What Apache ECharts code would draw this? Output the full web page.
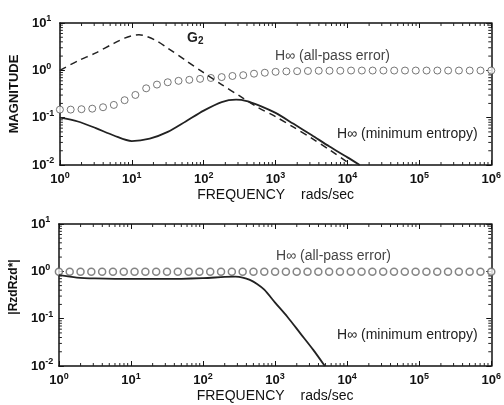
<!DOCTYPE html>
<html><head><meta charset="utf-8">
<script src="https://cdn.jsdelivr.net/npm/echarts@6/dist/echarts.min.js"></script>
<style>html,body{margin:0;padding:0;background:#fff}#c{width:504px;height:405px}</style>
</head><body><div id="c"></div>
<script>
// ---- data ----
// top panel: G2 (dashed)
var g2Freq = [1, 1.778, 3.162, 5.623, 7.943, 10, 12.59, 15.85, 22.39, 31.62, 56.23, 100, 177.8, 316.2, 562.3, 1000, 1778, 3162, 5623, 10000, 11220];
var g2Mag  = [1.0, 1.585, 2.34, 3.72, 4.79, 5.37, 5.62, 5.25, 4.17, 2.95, 1.62, 0.89, 0.50, 0.288, 0.166, 0.105, 0.063, 0.037, 0.021, 0.0115, 0.0100];
// top panel: H-inf minimum entropy (solid)
var meTopFreq = [1, 1.778, 3.162, 5.623, 10, 17.78, 31.62, 56.23, 100, 177.8, 281.8, 398.1, 562.3, 1000, 1778, 3162, 5623, 10000, 14791];
var meTopMag  = [0.100, 0.083, 0.060, 0.042, 0.032, 0.036, 0.050, 0.083, 0.141, 0.214, 0.240, 0.224, 0.186, 0.126, 0.074, 0.043, 0.0245, 0.0145, 0.0100];
// circle markers (all-pass error), exponent of frequency
var circExp = [0,0.15,0.3,0.45,0.6,0.75,0.9,1.05,1.2,1.35,1.5,1.65,1.8,1.95,2.1,2.25,2.4,2.55,2.7,2.85,3,3.15,3.3,3.45,3.6,3.75,3.9,4.05,4.2,4.35,4.5,4.65,4.8,4.95,5.1,5.25,5.4,5.55,5.7,5.85,6];
var apTopMag = [0.148,0.148,0.151,0.155,0.166,0.186,0.234,0.302,0.417,0.50,0.56,0.60,0.63,0.66,0.69,0.72,0.76,0.79,0.85,0.89,0.93,0.95,0.96,0.97,0.98,0.98,0.98,0.99,0.99,0.99,0.99,0.99,0.99,0.99,0.99,0.99,0.99,0.99,0.99,0.99,0.99];
// bottom panel
var apBotMag = [0.98,0.98,0.98,0.98,0.98,0.98,0.98,0.98,0.98,0.98,0.98,0.98,0.98,0.98,0.98,0.98,0.98,0.98,0.98,0.98,0.98,0.98,0.98,0.98,0.98,0.98,0.98,0.98,0.98,0.98,0.98,0.98,0.98,0.98,0.98,0.98,0.98,0.98,0.98,0.98,0.98];
var meBotFreq = [1, 1.778, 3.162, 10, 31.62, 100, 199.5, 281.8, 354.8, 446.7, 562.3, 707.9, 1000, 1479, 2239, 3388, 4898];
var meBotMag  = [0.83, 0.74, 0.71, 0.69, 0.69, 0.72, 0.76, 0.77, 0.74, 0.66, 0.54, 0.41, 0.219, 0.110, 0.049, 0.0219, 0.0100];
// axis ticks
var xMinorMult = [2,3,4,5,6,7,8,9];

function pairs(xs, ys){ return xs.map(function(x,i){ return [x, ys[i]]; }); }
var circFreq = circExp.map(function(e){ return Math.pow(10, e); });
var xMinor = []; for (var k=0;k<6;k++) xMinorMult.forEach(function(m){ xMinor.push(m*Math.pow(10,k)); });
var yMinor = []; for (var j=-2;j<1;j++) xMinorMult.forEach(function(m){ yMinor.push(m*Math.pow(10,j)); });

var FONT = 'Liberation Sans, Arial, Helvetica, sans-serif';
var labRich = {
  b: {fontSize: 13, fontWeight: 'bold', fontFamily: FONT, color: '#111'},
  s: {fontSize: 9, fontWeight: 'bold', fontFamily: FONT, color: '#111', padding: [0,0,8,0]}
};
function fmt(v){ return '{b|10}{s|' + Math.round(Math.log10(v)) + '}'; }

function xAx(grid, pos, showLab){
  return {type:'log', logBase:10, min:1, max:1e6, splitNumber:6, gridIndex:grid, position:pos,
    axisLine:{show:true, lineStyle:{color:'#111', width:1.5}},
    axisTick:{show:true, inside:true, length:5, lineStyle:{color:'#111'}},
    splitLine:{show:false},
    axisLabel:{show:showLab, formatter:fmt, rich:labRich, margin:6},
    name: showLab ? '{f|FREQUENCY}{r|rads/sec}' : '',
    nameLocation:'middle', nameGap: 23,
    nameTextStyle:{rich:{f:{fontSize:14, fontFamily:FONT, color:'#111', padding:[0,16,0,0]}, r:{fontSize:14, fontFamily:FONT, color:'#111'}}}
  };
}
function yAx(grid, pos, showLab, name, nameStyle){
  return {type:'log', logBase:10, min:0.01, max:10, splitNumber:3, gridIndex:grid, position:pos,
    axisLine:{show:true, lineStyle:{color:'#111', width:1.5}},
    axisTick:{show:true, inside:true, length:5, lineStyle:{color:'#111'}},
    splitLine:{show:false},
    axisLabel:{show:showLab, formatter:fmt, rich:labRich, align:'left', margin:28},
    name: name || '', nameLocation:'middle', nameGap:36,
    nameTextStyle: nameStyle || {fontSize:13, fontWeight:'bold', fontFamily:FONT, color:'#111'}
  };
}
function minorSeries(xi, yi, vals, isX){
  return {type:'custom', xAxisIndex:xi, yAxisIndex:yi, silent:true, z:1,
    data: vals.map(function(v){ return isX ? [v, 1] : [1, v]; }),
    renderItem: function(params, api){
      var cs = params.coordSys;
      var p = api.coord([api.value(0), api.value(1)]);
      var st = {stroke:'#222', lineWidth:1};
      if (isX) {
        return {type:'group', children:[
          {type:'line', shape:{x1:p[0], y1:cs.y+cs.height, x2:p[0], y2:cs.y+cs.height-3}, style:st},
          {type:'line', shape:{x1:p[0], y1:cs.y, x2:p[0], y2:cs.y+3}, style:st}
        ]};
      }
      return {type:'group', children:[
        {type:'line', shape:{x1:cs.x, y1:p[1], x2:cs.x+3, y2:p[1]}, style:st},
        {type:'line', shape:{x1:cs.x+cs.width, y1:p[1], x2:cs.x+cs.width-3, y2:p[1]}, style:st}
      ]};
    }
  };
}
var circStyle = {color:'#fff', borderColor:'#555', borderWidth:1};
var chart = echarts.init(document.getElementById('c'));
chart.setOption({
  animation:false,
  backgroundColor:'#fff',
  grid:[
    {left:56, top:23, width:438, height:142},
    {left:56, top:224, width:438, height:142}
  ],
  xAxis:[xAx(0,'bottom',true), xAx(0,'top',false), xAx(1,'bottom',true), xAx(1,'top',false)],
  yAxis:[yAx(0,'left',true,'MAGNITUDE'), yAx(0,'right',false),
         yAx(1,'left',true,'|RzdRzd*|', {fontSize:12, fontWeight:'bold', fontFamily:FONT, color:'#111', padding:[0,0,0,16]}),
         yAx(1,'right',false)],
  series:[
    minorSeries(0,0,xMinor,true), minorSeries(0,0,yMinor,false),
    minorSeries(2,2,xMinor,true), minorSeries(2,2,yMinor,false),
    {type:'line', xAxisIndex:0, yAxisIndex:0, data:pairs(g2Freq,g2Mag), smooth:0.3, symbol:'none',
      lineStyle:{color:'#222', width:1.5, type:[7,5]}},
    {type:'line', xAxisIndex:0, yAxisIndex:0, data:pairs(meTopFreq,meTopMag), smooth:0.3, symbol:'none',
      lineStyle:{color:'#222', width:1.8}},
    {type:'scatter', xAxisIndex:0, yAxisIndex:0, data:pairs(circFreq,apTopMag), symbol:'circle', symbolSize:7, itemStyle:circStyle},
    {type:'line', xAxisIndex:2, yAxisIndex:2, data:pairs(meBotFreq,meBotMag), smooth:0.3, symbol:'none',
      lineStyle:{color:'#222', width:1.8}},
    {type:'scatter', xAxisIndex:2, yAxisIndex:2, data:pairs(circFreq,apBotMag), symbol:'circle', symbolSize:7,
      itemStyle:{color:'#fff', borderColor:'#666', borderWidth:1.5}}
  ],
  graphic:[
    {type:'text', left:187, top:31, style:{rich:{g:{fontSize:14, fontFamily:FONT, fontWeight:'bold', fill:'#222'}, s:{fontSize:10, fontFamily:FONT, fontWeight:'bold', fill:'#222', padding:[6,0,0,0]}}, text:'{g|G}{s|2}'}},
    {type:'text', left:275, top:49, style:{text:'H\u221E (all-pass error)', fontSize:14, fontFamily:FONT, fill:'#444'}},
    {type:'text', left:337, top:127, style:{text:'H\u221E (minimum entropy)', fontSize:14, fontFamily:FONT, fill:'#222'}},
    {type:'text', left:276, top:249, style:{text:'H\u221E (all-pass error)', fontSize:14, fontFamily:FONT, fill:'#444'}},
    {type:'text', left:337, top:328, style:{text:'H\u221E (minimum entropy)', fontSize:14, fontFamily:FONT, fill:'#222'}}
  ]
});
</script></body></html>
